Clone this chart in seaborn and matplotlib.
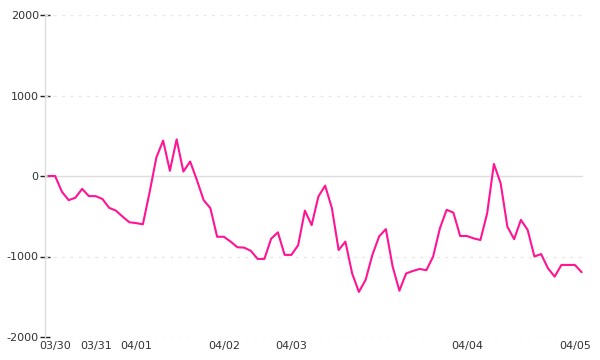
import matplotlib
matplotlib.use("Agg")
import matplotlib.pyplot as plt
import seaborn as sns
import numpy as np
import pandas as pd

values = [0, 0, -195, -300, -270, -160, -250, -250, -285, -395,
          -430, -505, -575, -585, -600, -200, 230, 440, 65, 455,
          55, 180, -50, -300, -400, -755, -755, -815, -885, -890,
          -930, -1030, -1030, -780, -700, -980, -980, -860, -430, -610,
          -255, -120, -400, -920, -815, -1210, -1440, -1290, -980, -750,
          -660, -1125, -1425, -1210, -1180, -1155, -1170, -1000, -650, -420,
          -455, -745, -745, -775, -795, -465, 150, -90, -630, -785,
          -545, -670, -1000, -970, -1145, -1250, -1105, -1105, -1105, -1195]
tick_index = [1, 7, 13, 26, 36, 62, 78]
tick_labels = ["03/30", "03/31", "04/01", "04/02", "04/03", "04/04", "04/05"]
y_ticks = [-2000, -1000, 0, 1000, 2000]

df = pd.DataFrame({"i": np.arange(len(values)), "v": values})

sns.set_theme(style="white")
plt.rcParams['font.family'] = ['DejaVu Sans']

fig = plt.figure(figsize=(6, 3.6), dpi=100)
ax = fig.add_axes([45/600, 1-337/360, (583-45)/600, (337-15)/360])

for yv in y_ticks:
    if yv == 0:
        ax.axhline(yv, color="#dddddd", lw=1.0, zorder=1)
    else:
        ax.axhline(yv, color="#e6e6e6", lw=1.0, ls=(0, (2, 4)), zorder=1)

sns.lineplot(data=df, x="i", y="v", ax=ax, color="#ff1493", lw=1.5, zorder=3)

ax.set_xlim(-0.5, 79.2)
ax.set_ylim(-2000, 2000)
ax.set_yticks(y_ticks)
ax.set_yticklabels([str(t) for t in y_ticks])
ax.set_xticks(tick_index)
ax.set_xticklabels(tick_labels)
ax.set_xlabel("")
ax.set_ylabel("")

for s in ["top", "right", "bottom"]:
    ax.spines[s].set_visible(False)
ax.spines["left"].set_color("#dddddd")
ax.spines["left"].set_linewidth(1.0)

ax.tick_params(axis="y", direction="inout", length=7, width=1, color="#222222",
               labelsize=8, labelcolor="#333333", pad=1, left=True)
ax.tick_params(axis="x", length=0, labelsize=8, labelcolor="#333333", pad=3)

fig.savefig("out.png", dpi=100)
